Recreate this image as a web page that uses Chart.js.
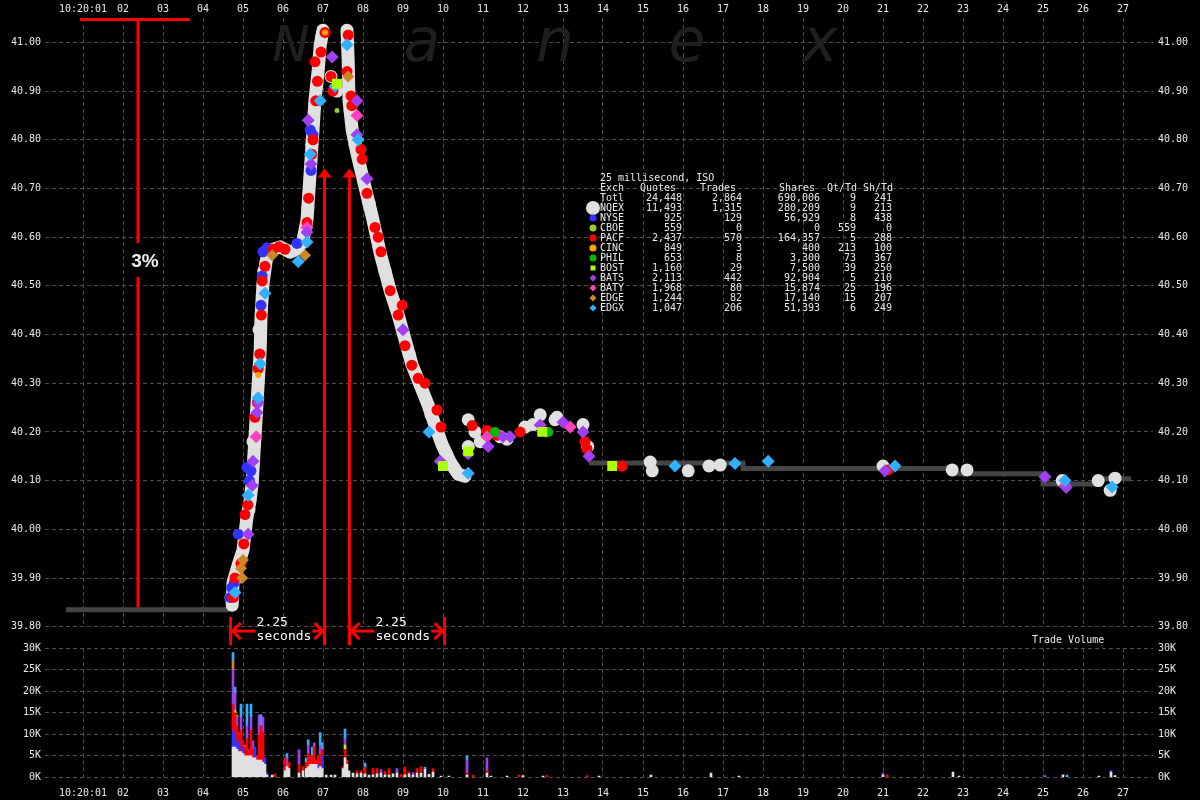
<!DOCTYPE html>
<html>
<head>
<meta charset="utf-8">
<title>Nanex - 25 millisecond, ISO</title>
<script src="https://cdn.jsdelivr.net/npm/chart.js@4.4.1/dist/chart.umd.min.js"></script>
<style>
  html, body { margin: 0; padding: 0; background: #000; overflow: hidden; }
  #wrap { position: relative; width: 1200px; height: 800px; }
  canvas { position: absolute; left: 0; }
  #price { top: 0; }
  #volume { top: 628px; }
</style>
</head>
<body>
<div id="wrap">
  <canvas id="price" width="1200" height="650"></canvas>
  <canvas id="volume" width="1200" height="172"></canvas>
</div>
<script>
// x = seconds after 10:20:00, prices in dollars, volume in thousands of shares
const secTicks = [1, 2, 3, 4, 5, 6, 7, 8, 9, 10, 11, 12, 13, 14, 15, 16, 17, 18, 19, 20, 21, 22, 23, 24, 25, 26, 27];
const secLabels = ['10:20:01', '02', '03', '04', '05', '06', '07', '08', '09', '10', '11', '12', '13', '14',
  '15', '16', '17', '18', '19', '20', '21', '22', '23', '24', '25', '26', '27'];
const priceTicks = [39.8, 39.9, 40.0, 40.1, 40.2, 40.3, 40.4, 40.5, 40.6, 40.7, 40.8, 40.9, 41.0];
const volTicks = [0, 5, 10, 15, 20, 25, 30];

// best bid/offer (dark grey step line)
const nbboOpen = [[0.575, 39.835], [4.65, 39.835]];
const nbboLate = [[13.65, 40.136], [17.5, 40.125], [22.73, 40.114], [25.0, 40.093], [26.4, 40.104], [27.2, 40.104]];

// NQEX quotes, the dense grey trail
const nqexRise = [[4.73, 39.844], [4.75, 39.89], [4.88, 39.927], [5.0, 39.957], [5.05, 39.992], [5.1, 40.025],
  [5.18, 40.06], [5.23, 40.095], [5.28, 40.163], [5.33, 40.231], [5.38, 40.30], [5.43, 40.368], [5.45, 40.436],
  [5.5, 40.505], [5.58, 40.552], [5.68, 40.573], [5.93, 40.58], [6.18, 40.569], [6.38, 40.577], [6.5, 40.594],
  [6.6, 40.635], [6.65, 40.697], [6.7, 40.758], [6.75, 40.82], [6.8, 40.882], [6.88, 40.943], [6.93, 40.994], [7.0, 41.025]];
const nqexFall = [[7.6, 41.025], [7.63, 40.963], [7.65, 40.88], [7.73, 40.82], [7.85, 40.772], [8.05, 40.703],
  [8.25, 40.635], [8.43, 40.567], [8.68, 40.49], [8.88, 40.44], [9.05, 40.39], [9.23, 40.337], [9.43, 40.296],
  [9.63, 40.255], [9.8, 40.214], [9.98, 40.173], [10.18, 40.138], [10.38, 40.113], [10.55, 40.109]];
const nqexDots = [[7.2, 40.93], [7.35, 40.9], [10.63, 40.17], [10.63, 40.225], [10.8, 40.2], [10.93, 40.18],
  [11.43, 40.19], [11.6, 40.185], [12.05, 40.21], [12.25, 40.215], [12.43, 40.235], [12.8, 40.225], [12.85, 40.23],
  [13.5, 40.215], [13.62, 40.17], [15.18, 40.138], [15.23, 40.12], [16.13, 40.12], [16.65, 40.13], [16.93, 40.132],
  [21.0, 40.13], [22.73, 40.122], [23.1, 40.122], [25.48, 40.1], [26.38, 40.1], [26.68, 40.08], [26.8, 40.105],
  [4.7, 39.86], [4.85, 39.9], [5.15, 40.04], [5.25, 40.18], [5.4, 40.41], [5.52, 40.53], [6.62, 40.66], [6.72, 40.79],
  [6.84, 40.91], [6.96, 41.01], [7.62, 41.0], [7.68, 40.86], [7.8, 40.79], [8.15, 40.67], [8.55, 40.53], [9.15, 40.36],
  [9.7, 40.235], [10.08, 40.155]];

// other exchanges' quotes
const pacfQuotes = [[4.76, 39.86], [4.8, 39.9], [4.95, 39.93], [5.02, 39.97], [5.12, 40.05], [5.05, 40.03], [5.3, 40.23],
  [5.36, 40.26], [5.38, 40.33], [5.42, 40.36], [5.46, 40.44], [5.48, 40.51], [5.55, 40.54], [5.75, 40.575], [5.9, 40.58],
  [6.05, 40.575], [6.6, 40.63], [6.64, 40.68], [6.72, 40.77], [6.75, 40.8], [6.82, 40.88], [6.86, 40.92], [6.8, 40.96],
  [6.95, 40.98], [7.05, 41.02], [7.2, 40.93], [7.25, 40.9], [7.63, 41.015], [7.6, 40.94], [7.7, 40.89], [7.72, 40.87],
  [7.95, 40.78], [7.98, 40.76], [8.1, 40.69], [8.3, 40.62], [8.38, 40.6], [8.45, 40.57], [8.68, 40.49], [8.88, 40.44],
  [8.98, 40.46], [9.05, 40.377], [9.22, 40.337], [9.38, 40.31], [9.55, 40.3], [9.85, 40.245], [9.95, 40.21],
  [10.73, 40.213], [11.1, 40.203], [11.35, 40.193], [11.93, 40.2], [12.58, 40.2], [13.55, 40.18], [13.6, 40.165],
  [14.48, 40.13], [21.13, 40.122]];
const nyseQuotes = [[4.68, 39.86], [4.72, 39.88], [4.78, 39.89], [4.88, 39.99], [5.1, 40.127], [5.2, 40.12], [5.16, 40.1],
  [5.45, 40.46], [5.48, 40.52], [5.5, 40.57], [5.6, 40.578], [6.35, 40.587], [6.7, 40.737], [6.68, 40.82], [6.75, 40.81]];
const batsQuotes = [[5.25, 40.14], [5.13, 39.99], [5.35, 40.24], [5.38, 40.26], [5.23, 40.09], [6.7, 40.75], [6.63, 40.84],
  [6.6, 40.61], [7.23, 40.97], [7.85, 40.81], [7.85, 40.88], [8.1, 40.72], [9.0, 40.41], [9.93, 40.14], [10.63, 40.155],
  [11.13, 40.17], [11.5, 40.19], [11.68, 40.19], [12.43, 40.214], [13.0, 40.22], [13.5, 40.2], [13.65, 40.15],
  [21.05, 40.12], [25.05, 40.108], [25.58, 40.086]];
const batyQuotes = [[5.33, 40.19], [6.6, 40.62], [7.85, 40.85], [11.1, 40.19], [13.18, 40.21], [25.55, 40.09]];
const edgeQuotes = [[4.98, 39.9], [5.0, 39.937], [4.95, 39.92], [5.73, 40.563], [6.55, 40.563], [7.63, 40.93]];
const edgxQuotes = [[4.8, 39.87], [5.13, 40.07], [5.43, 40.34], [5.38, 40.27], [5.55, 40.485], [6.93, 40.88], [6.68, 40.77],
  [6.6, 40.59], [7.6, 40.995], [7.3, 40.91], [6.38, 40.55], [7.88, 40.8], [10.63, 40.115], [9.65, 40.2], [15.8, 40.13],
  [17.3, 40.135], [18.13, 40.14], [21.3, 40.13], [25.55, 40.1], [26.73, 40.087]];
const bostQuotes = [[10.0, 40.13], [10.63, 40.16], [12.48, 40.2], [14.23, 40.13], [7.35, 40.915]];
const philQuotes = [[11.3, 40.2], [12.63, 40.2]];
const cincQuotes = [[5.38, 40.317], [7.05, 41.02]];
const cboeQuotes = [[7.35, 40.86]];

// trade volume per 25 ms bin, thousands of shares
const volNQEX = [[4.75, 7], [4.8, 7], [4.85, 6.5], [4.9, 6], [4.95, 6], [5.0, 5.5], [5.05, 5], [5.1, 5], [5.15, 5], [5.2, 5],
  [5.25, 4.5], [5.3, 4.5], [5.35, 4], [5.4, 4], [5.45, 4], [5.5, 3.5], [5.55, 3], [5.6, 0.5], [5.73, 0.5], [6.05, 1.5],
  [6.1, 2.5], [6.15, 2], [6.4, 1], [6.5, 1.5], [6.58, 2], [6.63, 2.5], [6.68, 3], [6.73, 3], [6.78, 3], [6.83, 3],
  [6.88, 2], [6.93, 2.5], [6.98, 2], [7.08, 0.5], [7.2, 0.5], [7.3, 0.5], [7.5, 2], [7.55, 4.5], [7.6, 3], [7.65, 1.5],
  [7.75, 1], [7.85, 0.8], [7.95, 1], [8.05, 0.8], [8.15, 0.5], [8.25, 0.6], [8.35, 0.8], [8.45, 1], [8.55, 0.6],
  [8.65, 0.5], [8.75, 0.8], [8.85, 1], [9.05, 0.6], [9.15, 0.8], [9.25, 0.5], [9.35, 1], [9.45, 0.9], [9.55, 1.8],
  [9.65, 0.7], [9.75, 1.2], [9.95, 0.3], [10.15, 0.3], [10.6, 0.5], [11.1, 1], [11.2, 0.3], [11.6, 0.3], [12.0, 0.4],
  [12.5, 0.3], [13.9, 0.3], [15.2, 0.5], [16.7, 1], [17.4, 0.3], [21.0, 0.5], [22.75, 1.2], [22.9, 0.3], [25.5, 0.6],
  [26.4, 0.3], [26.7, 1.2], [26.8, 0.4]];
const volNYSE = [[4.75, 4], [4.8, 3], [4.85, 1.5], [4.9, 2.5], [5.0, 1.5], [5.3, 2.5], [5.55, 1.5], [5.6, 0.5],
  [6.88, 1], [6.98, 3], [26.7, 0.4]];
const volPACF = [[4.75, 6], [4.8, 5], [4.85, 4], [4.9, 2], [4.95, 5], [5.0, 1.5], [5.05, 2], [5.1, 4], [5.15, 1.5],
  [5.2, 6], [5.25, 2], [5.35, 1], [5.4, 6], [5.45, 8], [5.5, 7], [5.8, 0.8], [6.05, 3], [6.15, 1.5], [6.4, 2], [6.5, 1],
  [6.58, 1.5], [6.63, 3], [6.68, 2], [6.73, 2], [6.78, 4], [6.83, 1], [6.88, 2], [6.93, 2.9], [6.98, 1.5], [7.5, 0.5],
  [7.55, 2], [7.6, 1], [7.85, 0.7], [7.95, 0.5], [8.05, 1.5], [8.25, 1.5], [8.35, 1.2], [8.55, 0.8], [8.65, 1.5],
  [8.95, 0.7], [9.05, 1.8], [9.15, 0.5], [9.35, 1], [9.45, 1.6], [9.75, 0.8], [10.6, 0.5], [10.75, 0.5], [11.1, 0.5],
  [11.9, 0.5], [12.6, 0.4], [13.6, 0.4], [21.1, 0.6]];
const volBOST = [[4.8, 0.5], [7.55, 1]];
const volBATS = [[4.75, 8], [4.8, 4], [4.85, 2], [4.95, 3], [5.1, 3], [5.2, 3], [5.25, 2], [5.4, 4.5], [5.5, 3.5],
  [6.1, 2], [6.4, 3.4], [6.63, 2], [6.78, 1], [6.93, 2], [7.55, 1.5], [8.45, 0.8], [8.85, 1], [9.25, 0.6], [10.6, 3],
  [11.1, 3], [21.0, 0.5], [25.05, 0.4]];
const volEDGE = [[4.75, 2], [4.85, 0.5], [5.05, 0.5]];
const volEDGX = [[4.75, 2], [4.8, 1.5], [4.95, 3], [5.1, 5], [5.2, 3], [5.45, 2.5], [6.1, 1], [6.58, 1], [6.63, 1.2],
  [6.73, 2], [6.93, 3], [6.98, 1.5], [7.55, 2.2], [8.05, 1], [9.55, 0.6], [10.6, 1], [25.6, 0.5]];

// summary table
const tableTitle = '25 millisecond, ISO';
const tableHead = ['Exch', 'Quotes', 'Trades', 'Shares', 'Qt/Td', 'Sh/Td'];
const exchNames = ['Totl', 'NQEX', 'NYSE', 'CBOE', 'PACF', 'CINC', 'PHIL', 'BOST', 'BATS', 'BATY', 'EDGE', 'EDGX'];
const quotes = [24448, 11493, 925, 559, 2437, 849, 653, 1160, 2113, 1968, 1244, 1047];
const trades = [2864, 1315, 129, 0, 570, 3, 8, 29, 442, 80, 82, 206];
const shares = [690006, 280209, 56929, 0, 164357, 400, 3300, 7500, 92904, 15874, 17140, 51393];
const qtPerTd = [9, 9, 8, 559, 5, 213, 73, 39, 5, 25, 15, 6];
const shPerTd = [241, 213, 438, 0, 288, 100, 367, 250, 210, 196, 207, 249];

// annotations (data units)
const pctBar = { from: 0.925, to: 3.675, at: 2.375, top: 41.047, bottom: 39.84, gapTop: 40.588, gapBottom: 40.518, label: 40.549 };
const riseArrows = [7.04, 7.66];
const arrowTip = 40.741, arrowBase = 39.762;
const spans = [[4.69, 7.04], [7.66, 10.04]];
const spanLevel = 39.791, spanBarTop = 39.82;
const spanText = ['2.25', 'seconds'];

const colors = {
  NQEX: '#e0e0e0', NYSE: '#3333ff', CBOE: '#99cc33', PACF: '#ff0000', CINC: '#ffa500', PHIL: '#00bb00',
  BOST: '#aaff00', BATS: '#a040f0', BATY: '#ff40c0', EDGE: '#cc8822', EDGX: '#30b0ff'
};
const shapes = {
  NQEX: 'circle', NYSE: 'circle', CBOE: 'circle', PACF: 'circle', CINC: 'circle', PHIL: 'circle',
  BOST: 'rect', BATS: 'rectRot', BATY: 'rectRot', EDGE: 'rectRot', EDGX: 'rectRot'
};
const gridColor = '#4e4e4e';
const mono = '"DejaVu Sans Mono", monospace';

Chart.defaults.font.family = mono;
Chart.defaults.font.size = 10;
Chart.defaults.color = '#e8e8e8';
Chart.defaults.animation = false;

const pts = a => a.map(([x, y]) => ({ x, y }));

function timeAxis(position, height, pad) {
  return {
    type: 'linear', position, min: 0.05, max: 27.75, offset: false,
    afterBuildTicks: s => { s.ticks = secTicks.map(v => ({ value: v })); },
    afterFit: s => { s.height = height; },
    grid: { color: gridColor, drawTicks: false, offset: false },
    border: { display: false, dash: [4, 3] },
    ticks: { padding: pad, maxRotation: 0, autoSkip: false, callback: (v, i) => secLabels[i] }
  };
}

function valueAxis(position, min, max, list, fmt, width, pad, showGrid) {
  return {
    type: 'linear', position, min, max,
    afterBuildTicks: s => { s.ticks = list.map(v => ({ value: v })); },
    afterFit: s => { s.width = width; },
    grid: { display: showGrid, color: gridColor, drawTicks: false },
    border: { display: false, dash: [4, 3] },
    ticks: { padding: pad, callback: fmt }
  };
}

function quoteSet(name, arr, r, order) {
  return {
    label: name, data: pts(arr), backgroundColor: colors[name], borderColor: colors[name],
    pointStyle: shapes[name], pointRadius: r, pointBorderWidth: 0, order
  };
}

function trail(arr) {
  return {
    label: 'NQEX', data: pts(arr), showLine: true, borderColor: colors.NQEX, borderWidth: 13,
    borderCapStyle: 'round', borderJoinStyle: 'round', pointRadius: 0, order: 15
  };
}

function nbbo(arr) {
  return {
    label: 'NBBO', data: pts(arr), showLine: true, stepped: true, borderColor: '#454545',
    borderWidth: 5, pointRadius: 0, order: 20
  };
}

// faint Nanex logo
const watermark = {
  id: 'watermark',
  beforeDatasetsDraw(chart) {
    const c = chart.ctx;
    c.save();
    c.fillStyle = '#1f1f1f';
    c.textAlign = 'center';
    c.textBaseline = 'alphabetic';
    c.font = 'italic 50px "DejaVu Sans"';
    c.fillText('N', 291, 61);
    c.font = 'italic 60px "DejaVu Sans"';
    [['a', 422], ['n', 555], ['e', 687], ['x', 820]].forEach(([ch, px]) => c.fillText(ch, px, 61));
    c.restore();
  }
};

// red 3% bracket, rise arrows and 2.25 second spans
const redMarks = {
  id: 'redMarks',
  afterDraw(chart) {
    const c = chart.ctx, xs = chart.scales.x, ys = chart.scales.y;
    const X = v => xs.getPixelForValue(v), Y = v => ys.getPixelForValue(v);
    const seg = (x1, y1, x2, y2) => { c.beginPath(); c.moveTo(x1, y1); c.lineTo(x2, y2); c.stroke(); };
    c.save();
    c.strokeStyle = c.fillStyle = '#ff0000';
    c.lineWidth = 3;

    seg(X(pctBar.from), Y(pctBar.top), X(pctBar.to), Y(pctBar.top));
    seg(X(pctBar.at), Y(pctBar.top), X(pctBar.at), Y(pctBar.gapTop));
    seg(X(pctBar.at), Y(pctBar.gapBottom), X(pctBar.at), Y(pctBar.bottom));

    riseArrows.forEach(t => {
      const px = X(t), tip = Y(arrowTip);
      seg(px, Y(arrowBase), px, tip + 6);
      c.beginPath(); c.moveTo(px, tip); c.lineTo(px - 7, tip + 9); c.lineTo(px + 7, tip + 9); c.closePath(); c.fill();
    });

    c.font = '13px ' + mono;
    c.textBaseline = 'middle';
    c.textAlign = 'left';
    spans.forEach(([a, b]) => {
      const xa = X(a), xb = X(b), yl = Y(spanLevel);
      seg(xa, Y(spanBarTop), xa, Y(arrowBase));
      seg(xb, Y(spanBarTop), xb, Y(arrowBase));
      const tx = xa + 26, tw = c.measureText(spanText[1]).width;
      seg(xa + 2, yl, tx - 1, yl);
      seg(tx + tw + 1, yl, xb - 2, yl);
      c.beginPath(); c.moveTo(xa + 10, yl - 8); c.lineTo(xa + 2, yl); c.lineTo(xa + 10, yl + 8); c.stroke();
      c.beginPath(); c.moveTo(xb - 10, yl - 8); c.lineTo(xb - 2, yl); c.lineTo(xb - 10, yl + 8); c.stroke();
      c.fillStyle = '#ffffff';
      c.fillText(spanText[0], tx, yl - 8);
      c.fillText(spanText[1], tx, yl + 6);
      c.fillStyle = '#ff0000';
    });

    c.fillStyle = '#f0f0f0';
    c.font = 'bold 19px "Liberation Sans"';
    c.textAlign = 'center';
    c.fillText('3%', X(pctBar.at) + 7, Y(pctBar.label));
    c.restore();
  }
};

// exchange summary table with markers
const summary = {
  id: 'summary',
  afterDraw(chart) {
    const c = chart.ctx;
    const left = 600, top = 178, step = 10;
    const headRight = [676, 736, 815, 857, 893];
    const colRight = [682, 742, 820, 856, 892];
    const fmt = n => n.toLocaleString('en-US');
    c.save();
    c.font = '10px ' + mono;
    c.fillStyle = '#e8e8e8';
    c.textBaseline = 'middle';
    c.textAlign = 'left';
    c.fillText(tableTitle, left, top);
    c.fillText(tableHead[0], left, top + step);
    c.textAlign = 'right';
    tableHead.slice(1).forEach((h, i) => c.fillText(h, headRight[i], top + step));
    exchNames.forEach((name, i) => {
      const y = top + step * (i + 2);
      c.fillStyle = '#e8e8e8';
      c.textAlign = 'left';
      c.fillText(name, left, y);
      c.textAlign = 'right';
      [quotes[i], trades[i], shares[i], qtPerTd[i], shPerTd[i]].forEach((v, k) => c.fillText(fmt(v), colRight[k], y));
      if (colors[name]) {
        c.fillStyle = c.strokeStyle = colors[name];
        const r = name === 'NQEX' ? 7 : 3.5;
        Chart.helpers.drawPoint(c, { pointStyle: shapes[name], radius: r, rotation: 0, borderWidth: 0 }, 593, y);
      }
    });
    c.restore();
  }
};

new Chart(document.getElementById('price'), {
  type: 'scatter',
  data: {
    datasets: [
      nbbo(nbboOpen),
      nbbo(nbboLate),
      trail(nqexRise),
      trail(nqexFall),
      quoteSet('NQEX', nqexDots, 6.5, 14),
      quoteSet('NYSE', nyseQuotes, 5.5, 9),
      quoteSet('PACF', pacfQuotes, 5.5, 8),
      quoteSet('EDGE', edgeQuotes, 6, 6),
      quoteSet('BATS', batsQuotes, 6.5, 5),
      quoteSet('BATY', batyQuotes, 6.5, 5),
      quoteSet('EDGX', edgxQuotes, 6.5, 4),
      quoteSet('BOST', bostQuotes, 7, 3),
      quoteSet('PHIL', philQuotes, 5, 3),
      quoteSet('CINC', cincQuotes, 3, 2),
      quoteSet('CBOE', cboeQuotes, 2.5, 2)
    ]
  },
  options: {
    responsive: false,
    events: [],
    layout: { padding: { top: 0, bottom: 23.3, left: 0, right: 0 } },
    plugins: { legend: { display: false }, tooltip: { enabled: false } },
    scales: {
      x: timeAxis('top', 18, 3),
      y: valueAxis('left', 39.8, 41.05, priceTicks, v => v.toFixed(2), 45, 4, true),
      y2: valueAxis('right', 39.8, 41.05, priceTicks, v => v.toFixed(2), 47, 5, false)
    }
  },
  plugins: [watermark, redMarks, summary]
});

const volumeTitle = {
  id: 'volumeTitle',
  afterDraw(chart) {
    const c = chart.ctx;
    c.save();
    c.font = '10px ' + mono;
    c.fillStyle = '#e8e8e8';
    c.textAlign = 'left';
    c.textBaseline = 'middle';
    c.fillText('Trade Volume', 1032, 12);
    c.restore();
  }
};

function volSet(name, arr) {
  return { label: name, data: pts(arr), backgroundColor: colors[name], borderWidth: 0, barThickness: 2 };
}

new Chart(document.getElementById('volume'), {
  type: 'bar',
  data: {
    datasets: [
      volSet('NQEX', volNQEX),
      volSet('NYSE', volNYSE),
      volSet('PACF', volPACF),
      volSet('BOST', volBOST),
      volSet('BATS', volBATS),
      volSet('EDGE', volEDGE),
      volSet('EDGX', volEDGX)
    ]
  },
  options: {
    responsive: false,
    events: [],
    layout: { padding: { top: 20.3, bottom: 0, left: 0, right: 0 } },
    plugins: { legend: { display: false }, tooltip: { enabled: false } },
    scales: {
      x: Object.assign(timeAxis('bottom', 22.7, 10), { stacked: true }),
      y: Object.assign(valueAxis('left', 0, 30, volTicks, v => v + 'K', 45, 4, true), { stacked: true }),
      y2: valueAxis('right', 0, 30, volTicks, v => v + 'K', 47, 5, false)
    }
  },
  plugins: [volumeTitle]
});
</script>
</body>
</html>
